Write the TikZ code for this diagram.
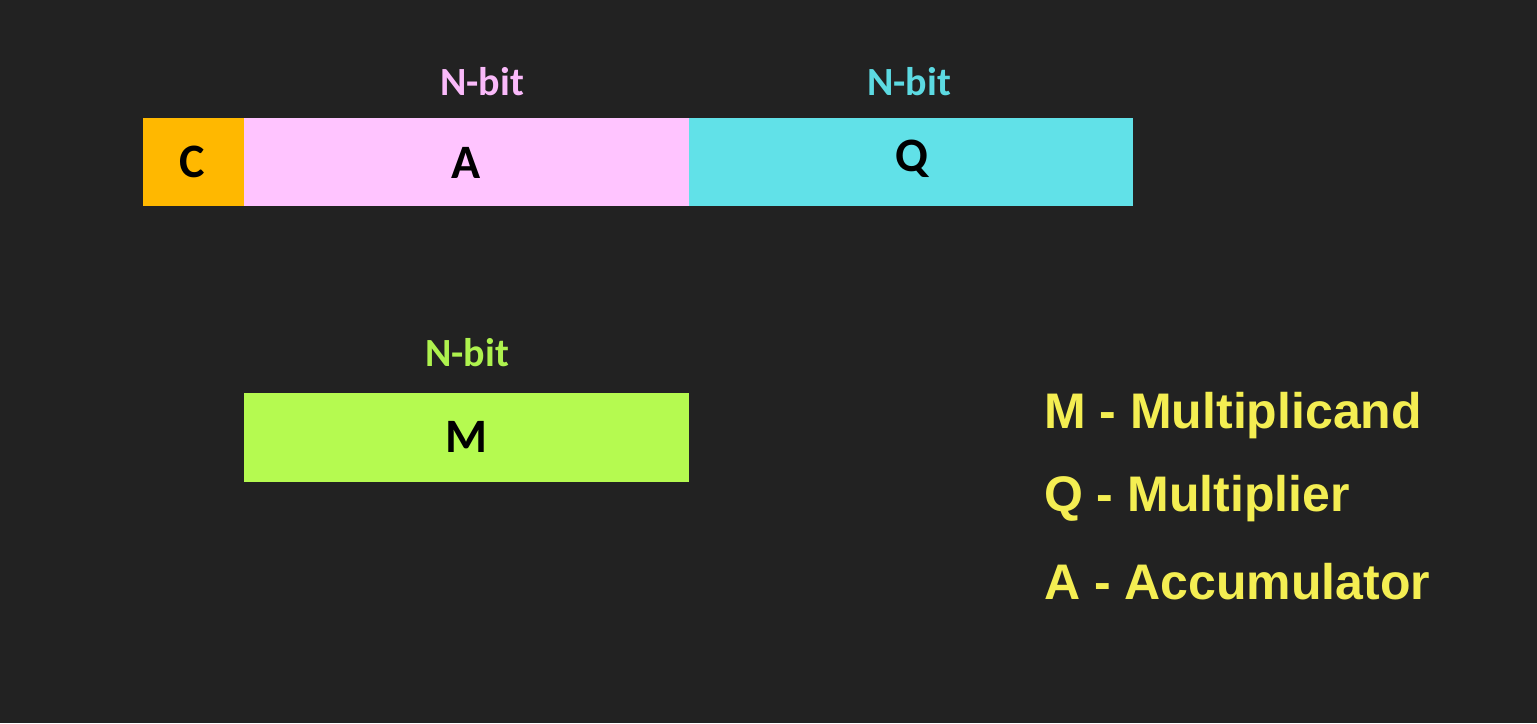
\documentclass[tikz,border=0pt]{standalone}
\usepackage{fontspec}
\setmainfont{Carlito}
\newfontfamily\legendfont{Liberation Sans}
\definecolor{bg}{HTML}{222222}
\definecolor{corange}{HTML}{FFB800}
\definecolor{cpink}{HTML}{FFC4FF}
\definecolor{ccyan}{HTML}{61E1E8}
\definecolor{cgreen}{HTML}{B5FA50}
\definecolor{tpink}{HTML}{FABAFA}
\definecolor{tcyan}{HTML}{5CDAE2}
\definecolor{tgreen}{HTML}{AEF24E}
\definecolor{cyellow}{HTML}{F4EE52}
\begin{document}
\begin{tikzpicture}[x=1pt,y=-1pt,
  reg/.style={draw=none, inner sep=0pt, anchor=north west,
    font=\bfseries\fontsize{48}{48}\selectfont, text=black},
  width label/.style={inner sep=0pt, font=\bfseries\fontsize{40}{40}\selectfont},
  legend/.style={inner sep=0pt, anchor=west, text=cyellow,
    font=\legendfont\bfseries\fontsize{50}{50}\selectfont}]
\fill[bg] (0,0) rectangle (1537,723);
\useasboundingbox (0,0) rectangle (1537,723);
% registers
\node[reg, fill=corange, minimum width=101pt, minimum height=88pt] (C) at (143,118) {};
\node[reg, fill=cpink, minimum width=445pt, minimum height=88pt] (A) at (244,118) {};
\node[reg, fill=ccyan, minimum width=444pt, minimum height=88pt] (Q) at (689,118) {};
\node[reg, fill=cgreen, minimum width=445pt, minimum height=89pt] (M) at (244,393) {};
\node[reg, anchor=center] (Ct) at (192,162) {C};
\node[reg, anchor=center] (At) at (466,163) {A};
\node[reg, anchor=center] (Qt) at (912,159) {Q};
\node[reg, anchor=center] (Mt) at (466,437) {M};
% width labels
\node[width label, text=tpink] (nA) at (482,82) {N-bit};
\node[width label, text=tcyan] (nQ) at (909,82) {N-bit};
\node[width label, text=tgreen] (nM) at (467,353) {N-bit};
% legend
\node[legend] (l1) at (1044,416) {M - Multiplicand};
\node[legend] (l2) at (1044,499) {Q - Multiplier};
\node[legend] (l3) at (1044,582) {A - Accumulator};
\end{tikzpicture}
\end{document}
